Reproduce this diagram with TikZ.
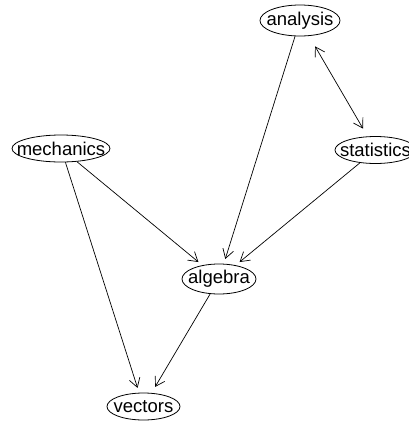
\documentclass[tikz,border=0pt]{standalone}
\usepackage{fontspec}
\setmainfont{Liberation Sans}
\usetikzlibrary{shapes.geometric,arrows.meta}
\begin{document}
\begin{tikzpicture}[x=1pt,y=-1pt,
  vtx/.style={ellipse,draw,line width=0.8pt,inner sep=0pt,label={[font=\fontsize{18.5}{20}\selectfont,inner sep=0pt]center:#1}},
  edge/.style={line width=0.7pt,-{Straight Barb[length=9pt,width=11pt,line width=0.7pt]},shorten >=5pt}]
\useasboundingbox (0,0) rectangle (408,421);
\node[vtx=analysis,minimum width=80pt,minimum height=31pt] (analysis) at (300,20.5) {};
\node[vtx=mechanics,minimum width=98pt,minimum height=27pt] (mechanics) at (61,148.5) {};
\node[vtx=statistics,minimum width=81pt,minimum height=27pt] (statistics) at (375.5,150) {};
\node[vtx=algebra,minimum width=74pt,minimum height=30pt] (algebra) at (219,279) {};
\node[vtx=vectors,minimum width=73pt,minimum height=27pt] (vectors) at (143.5,406.5) {};
\draw[edge] (analysis) -- (algebra);
\draw[edge,{Straight Barb[length=9pt,width=11pt,line width=0.7pt]}-{Straight Barb[length=9pt,width=11pt,line width=0.7pt]},shorten <=12pt,shorten >=9pt] (analysis) -- (statistics);
\draw[edge] (statistics) -- (algebra);
\draw[edge] (mechanics) -- (algebra);
\draw[edge] (mechanics) -- (vectors);
\draw[edge,shorten >=7pt] (algebra) -- (vectors);
\end{tikzpicture}
\end{document}
